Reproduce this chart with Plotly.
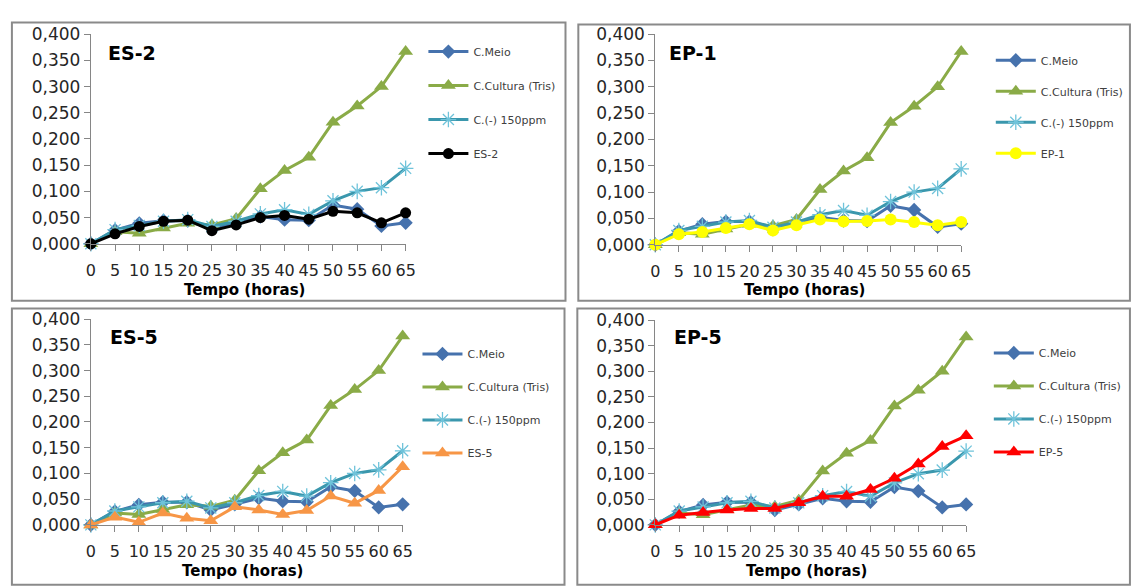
import plotly.graph_objects as go

# Tempo (horas)
horas = [0, 5, 10, 15, 20, 25, 30, 35, 40, 45, 50, 55, 60, 65]

# Controls (same in every panel)
c_meio = [0.000, 0.026, 0.039, 0.044, 0.044, 0.029, 0.040, 0.052, 0.046, 0.045, 0.074, 0.066, 0.034, 0.040]
c_cultura = [0.000, 0.023, 0.020, 0.030, 0.039, 0.036, 0.048, 0.105, 0.140, 0.165, 0.232, 0.263, 0.300, 0.367]
c_neg = [0.000, 0.027, 0.035, 0.043, 0.046, 0.033, 0.043, 0.057, 0.065, 0.056, 0.082, 0.100, 0.107, 0.144]

# Samples
es2 = [0.000, 0.019, 0.033, 0.043, 0.045, 0.025, 0.036, 0.050, 0.054, 0.047, 0.062, 0.059, 0.040, 0.059]
ep1 = [0.000, 0.020, 0.024, 0.032, 0.039, 0.027, 0.037, 0.048, 0.044, 0.045, 0.048, 0.043, 0.037, 0.043]
es5 = [0.000, 0.015, 0.005, 0.023, 0.013, 0.008, 0.035, 0.029, 0.020, 0.028, 0.056, 0.042, 0.067, 0.113]
ep5 = [0.000, 0.019, 0.024, 0.029, 0.032, 0.032, 0.043, 0.056, 0.056, 0.069, 0.091, 0.119, 0.153, 0.174]

panel_names = ["ES-2", "EP-1", "ES-5", "EP-5"]
panel_series = [es2, ep1, es5, ep5]

W, H = 1135, 588

# pixel boxes of each plot area: (left, right, top, bottom)
areas = [(87, 406, 25, 242), (659, 969, 25, 243), (87, 403, 320, 533), (659, 974, 321, 533)]
frames = [(7, 568, 13, 301), (581, 1140, 15, 301), (7, 567, 309, 595), (580, 1140, 309, 595)]
legend_pos = [(424, 28, 15), (999, 37, 12), (418, 341, 14), (997, 340, 14)]
title_pos = [(102, 45), (671, 45), (104, 339), (676, 339)]
sample_styles = [
    dict(color="#000000", symbol="circle", size=11),
    dict(color="#ffff00", symbol="circle", size=12),
    dict(color="#f79646", symbol="triangle-up", size=13),
    dict(color="#ff0000", symbol="triangle-up", size=13),
]

FONT = "DejaVu Sans"
AXIS_GRAY = "#868686"

fig = go.Figure()


def px_x(v):
    return v / W


def px_y(v):
    return 1 - v / H


layout = dict(
    width=W, height=H,
    margin=dict(l=0, r=0, t=0, b=0),
    paper_bgcolor="white", plot_bgcolor="white",
    separators=",.",
    font=dict(family=FONT, color="#262626"),
    shapes=[], annotations=[],
)

for i in range(4):
    n = "" if i == 0 else str(i + 1)
    xa, ya = "x" + n, "y" + n
    lg = "legend" + n
    l, r, t, b = areas[i]

    controls = [
        ("C.Meio", c_meio, dict(color="#4672ad", symbol="diamond", size=11), "#4672ad"),
        ("C.Cultura (Tris)", c_cultura, dict(color="#8aab47", symbol="triangle-up", size=13), "#8aab47"),
        ("C.(-) 150ppm", c_neg, dict(color="#6fc3da", symbol="asterisk-open", size=13,
                                      line=dict(color="#6fc3da", width=1.3)), "#3a97ad"),
    ]
    sstyle = sample_styles[i]
    entries = controls + [(panel_names[i], panel_series[i],
                           dict(color=sstyle["color"], symbol=sstyle["symbol"], size=sstyle["size"]),
                           sstyle["color"])]
    for k, (name, vals, mk, lc) in enumerate(entries):
        fig.add_trace(go.Scatter(
            x=horas, y=vals, name=name, mode="lines+markers",
            line=dict(color=lc, width=3), marker=mk,
            xaxis=xa, yaxis=ya, legend=lg, legendgroup=f"g{i}_{k}",
            cliponaxis=False,
        ))

    layout["xaxis" + n] = dict(
        domain=[px_x(l), px_x(r)], anchor=ya, range=[0, 65],
        tickvals=horas, ticks="outside", ticklen=6, tickcolor=AXIS_GRAY,
        showline=True, linecolor=AXIS_GRAY, linewidth=1, showgrid=False, zeroline=False,
        tickfont=dict(family=FONT, size=16, color="#262626"), ticklabelstandoff=6,
        fixedrange=True,
    )
    layout["yaxis" + n] = dict(
        domain=[px_y(b), px_y(t)], anchor=xa, range=[0, 0.4],
        tickvals=[0, 0.05, 0.1, 0.15, 0.2, 0.25, 0.3, 0.35, 0.4], tickformat=".3f",
        ticks="outside", ticklen=6, tickcolor=AXIS_GRAY,
        showline=True, linecolor=AXIS_GRAY, linewidth=1, showgrid=False, zeroline=False,
        tickfont=dict(family=FONT, size=17, color="#262626"),
        fixedrange=True,
    )
    lx, ly, gap = legend_pos[i]
    layout[lg] = dict(
        x=px_x(lx), y=px_y(ly), xanchor="left", yanchor="top",
        bgcolor="rgba(0,0,0,0)", borderwidth=0,
        font=dict(family=FONT, size=11, color="#404040"),
        traceorder="grouped", tracegroupgap=gap, itemwidth=40,
    )

    fl, fr, ft, fb = frames[i]
    layout["shapes"].append(dict(
        type="rect", xref="paper", yref="paper",
        x0=px_x(fl), x1=px_x(fr), y0=px_y(fb), y1=px_y(ft),
        line=dict(color="#8a8a8a", width=2), fillcolor="rgba(0,0,0,0)", layer="below",
    ))
    tx, ty = title_pos[i]
    layout["annotations"].append(dict(
        text="<b>" + panel_names[i] + "</b>", xref="paper", yref="paper",
        x=px_x(tx), y=px_y(ty), xanchor="left", yanchor="middle", showarrow=False,
        font=dict(family=FONT, size=19, color="#000000"),
    ))
    xt_y = 290 if i < 2 else 581
    layout["annotations"].append(dict(
        text="<b>Tempo (horas)</b>", xref="paper", yref="paper",
        x=px_x((l + r) / 2 - 4), y=px_y(xt_y), xanchor="center", yanchor="middle",
        showarrow=False, font=dict(family=FONT, size=15, color="#000000"),
    ))

fig.update_layout(**layout)
fig.write_html("out.html")
